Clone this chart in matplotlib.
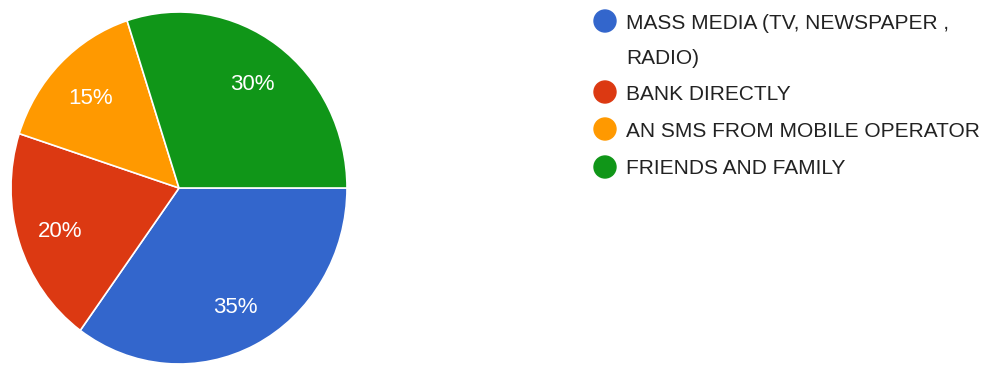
import matplotlib
matplotlib.use("Agg")
import matplotlib.pyplot as plt
from matplotlib.patches import Ellipse
from matplotlib.transforms import offset_copy

categories = [
    "MASS MEDIA (TV, NEWSPAPER ,\nRADIO)",
    "BANK DIRECTLY",
    "AN SMS FROM MOBILE OPERATOR",
    "FRIENDS AND FAMILY",
]
shares = [35, 20, 15, 30]
colors = ["#3366CC", "#DC3912", "#FF9900", "#109618"]

W, H = 999, 365
fig = plt.figure(figsize=(W / 100, H / 100), dpi=100)
fig.patch.set_facecolor("white")
plt.rcParams["font.family"] = ["Liberation Sans", "DejaVu Sans"]

# Pie axes placed in pixel units (left, top, right, bottom)
px_l, px_t, px_r, px_b = 11, 12, 347, 364
ax = fig.add_axes([px_l / W, (H - px_b) / H, (px_r - px_l) / W, (px_b - px_t) / H])
wedges, texts = ax.pie(
    shares,
    colors=colors,
    startangle=0,
    counterclock=False,
    labels=[f"{v}%" for v in shares],
    labeldistance=0.745,
    wedgeprops=dict(edgecolor="white", linewidth=1.2),
    textprops=dict(color="white", fontsize=16, ha="center", va="center"),
)
for t in texts:
    t.set_transform(offset_copy(t.get_transform(), fig=fig, x=0, y=-3, units="dots"))
ax.set_aspect("auto")
ax.set_xlim(-1, 1)
ax.set_ylim(-1, 1)
ax.axis("off")

# Legend drawn in pixel coordinates
dot_x, text_x = 605, 626
dot_y = [21, 92, 129, 167]
base_y = [29, 100, 137.5, 174]
line_gap = 35
for cat, col, dy, by in zip(categories, colors, dot_y, base_y):
    fig.add_artist(Ellipse((dot_x / W, 1 - dy / H), 22 / W, 22 / H,
                           transform=fig.transFigure, color=col))
    for i, line in enumerate(cat.split("\n")):
        fig.text(text_x / W, 1 - (by + i * line_gap) / H, line, fontsize=15,
                 color="#222222", ha="left", va="baseline")

fig.savefig("out.png", dpi=100)
